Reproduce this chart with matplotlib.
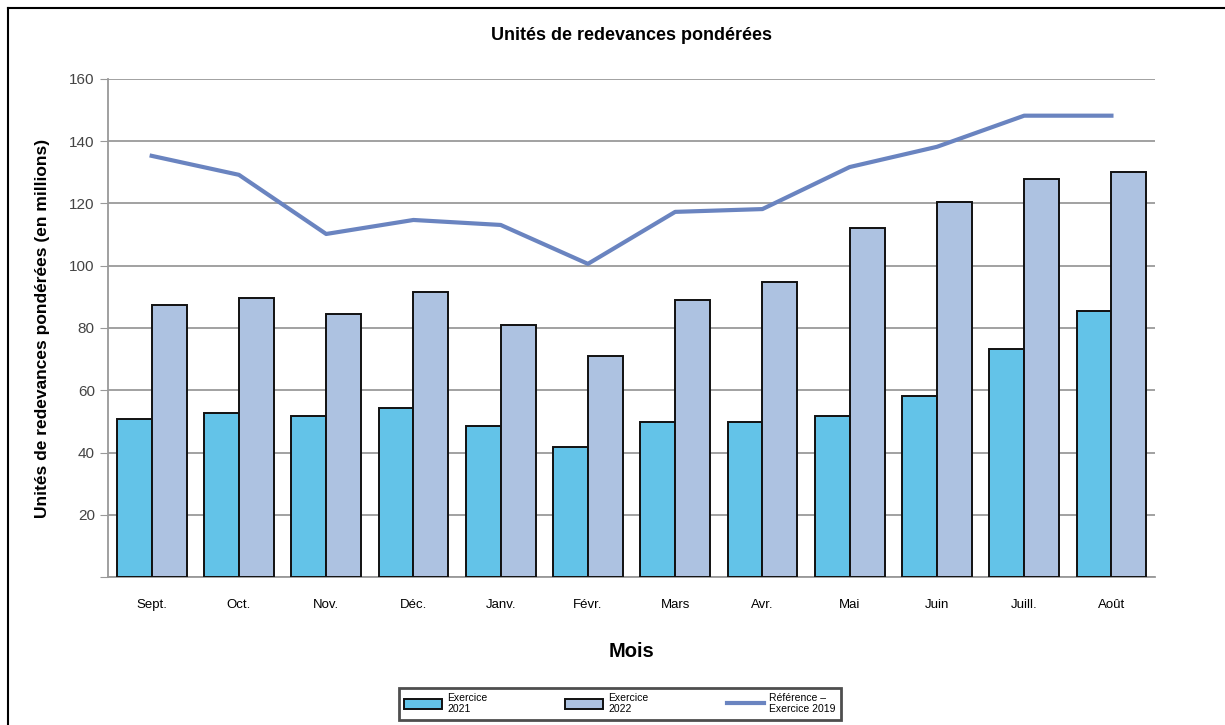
import numpy as np
import matplotlib.pyplot as plt
from matplotlib.lines import Line2D

plt.rcParams['font.family'] = ['Liberation Sans', 'DejaVu Sans']

mois = ['Sept.', 'Oct.', 'Nov.', 'Déc.', 'Janv.', 'Févr.', 'Mars', 'Avr.', 'Mai', 'Juin', 'Juill.', 'Août']
ex2021 = [50.8, 52.7, 51.7, 54.3, 48.5, 41.8, 49.8, 49.8, 51.7, 58.2, 73.3, 85.5]
ex2022 = [87.4, 89.6, 84.5, 91.6, 81.0, 71.0, 89.0, 94.8, 112.1, 120.5, 127.9, 130.1]
ref2019 = [135.3, 129.2, 110.2, 114.7, 113.1, 100.6, 117.3, 118.2, 131.7, 138.2, 148.2, 148.2]

fig = plt.figure(figsize=(12.25, 7.25), dpi=100)
ax = fig.add_axes([0.0882, 0.2041, 0.8547, 0.687])

x = np.arange(len(mois))
w = 0.4
b1 = ax.bar(x - w/2, ex2021, w, color='#63c3e8', edgecolor='#111111', linewidth=1.4,
            label='Exercice\n2021', zorder=3)
b2 = ax.bar(x + w/2, ex2022, w, color='#adc2e1', edgecolor='#111111', linewidth=1.4,
            label='Exercice\n2022', zorder=3)
l1, = ax.plot(x, ref2019, color='#6a84c0', linewidth=3, label='Référence –\nExercice 2019', zorder=4)

ax.set_xlim(-0.5, len(mois) - 0.5)
ax.set_ylim(0, 160)
ax.set_yticks(range(0, 161, 20))
ax.set_yticklabels([''] + [str(v) for v in range(20, 161, 20)])
ax.set_xticks(x)
ax.set_xticklabels(mois, fontsize=9.5)
ax.tick_params(axis='x', length=0, pad=16)
ax.tick_params(axis='y', length=5.5, color='#999999', labelsize=11, labelcolor='#444444', pad=4)
ax.grid(axis='y', color='#9a9a9a', linewidth=1.3, zorder=0)
for s in ['top', 'right']:
    ax.spines[s].set_visible(False)
for s in ['left', 'bottom']:
    ax.spines[s].set_color('#999999')
    ax.spines[s].set_linewidth(1.3)

ax.set_title('Unités de redevances pondérées', fontsize=13, fontweight='bold', pad=28)
ax.set_ylabel('Unités de redevances pondérées (en millions)', fontsize=12.5, fontweight='bold', labelpad=14)
ax.set_xlabel('Mois', fontsize=14.5, fontweight='bold', labelpad=22)

leg = ax.legend(handles=[b1, b2, l1], loc='upper center', bbox_to_anchor=(0.489, -0.222), ncol=3,
                fontsize=7.5, frameon=True, fancybox=False, edgecolor='#222222', handlelength=3.6,
                handleheight=1.1, columnspacing=7.5, borderpad=0.5, handletextpad=0.5,
                borderaxespad=0)
leg.get_frame().set_linewidth(2)

# outer frame (left and top edges)
fig.add_artist(Line2D([8/1225, 8/1225], [0, 1 - 8/725], color='black', linewidth=1.5))
fig.add_artist(Line2D([8/1225, 1], [1 - 8/725, 1 - 8/725], color='black', linewidth=1.5))

fig.savefig('out.png', dpi=100)
